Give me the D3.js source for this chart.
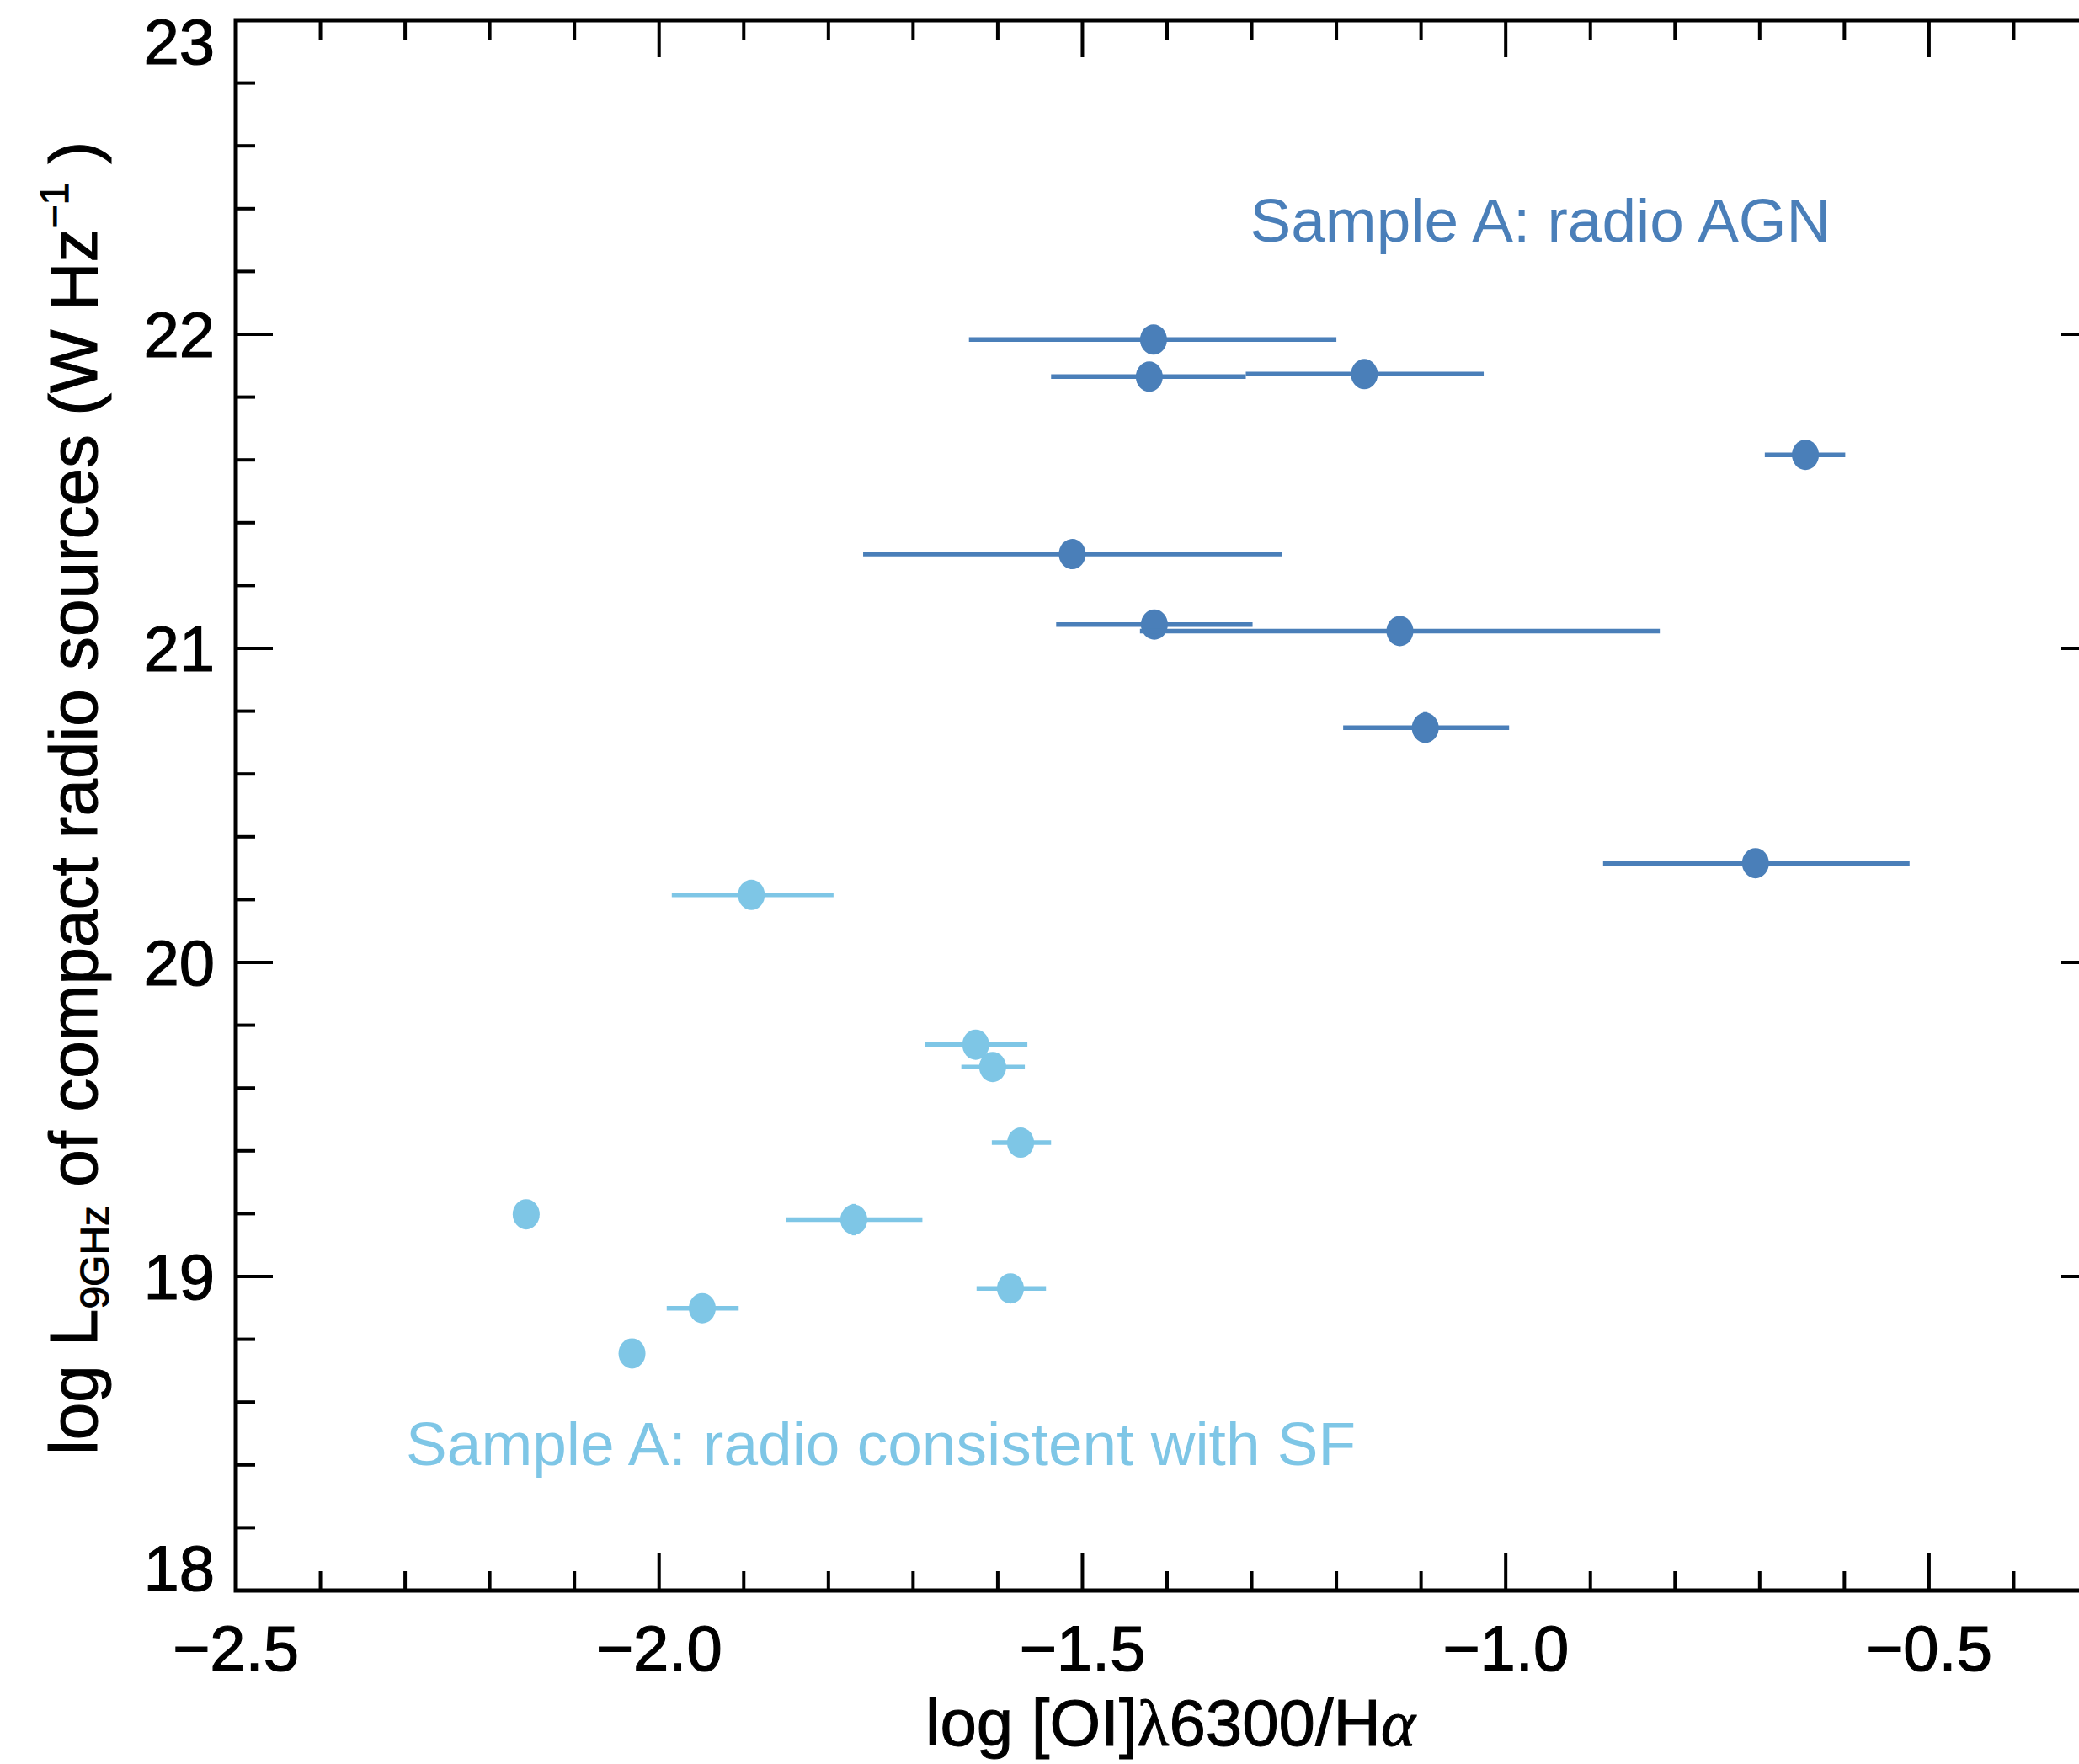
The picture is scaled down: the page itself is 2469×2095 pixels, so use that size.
<!DOCTYPE html>
<html>
<head>
<meta charset="utf-8">
<script src="https://cdn.jsdelivr.net/npm/d3@7"></script>
<style>
  html, body { margin: 0; padding: 0; background: #fff; }
  svg { display: block; font-family: "Liberation Sans", Arial, Helvetica, sans-serif; }
</style>
</head>
<body>
<div id="chart"></div>
<script>
// radio AGN (dark blue)
const agnX    = [-1.416, -1.421, -1.167, -0.646, -1.512, -1.415, -1.125, -1.095, -0.705];
const agnY    = [21.983, 21.865, 21.873, 21.616, 21.300, 21.076, 21.055, 20.747, 20.316];
const agnXLo  = [-1.634, -1.537, -1.307, -0.694, -1.759, -1.531, -1.432, -1.192, -0.885];
const agnXHi  = [-1.200, -1.307, -1.026, -0.599, -1.264, -1.299, -0.818, -0.996, -0.523];
const agnYErr = [0, 0, 0, 0, 0, 0, 0, 0.05, 0];

// radio consistent with SF (light blue)
const sfX    = [-1.891, -1.626, -1.606, -1.573, -2.157, -1.770, -1.585, -1.949, -2.032];
const sfY    = [20.215, 19.738, 19.667, 19.426, 19.198, 19.181, 18.962, 18.899, 18.755];
const sfXLo  = [-1.985, -1.686, -1.643, -1.607, -2.157, -1.850, -1.625, -1.991, -2.032];
const sfXHi  = [-1.794, -1.565, -1.568, -1.537, -2.157, -1.689, -1.543, -1.906, -2.032];
const sfYErr = [0, 0, 0, 0, 0, 0.05, 0, 0, 0];

const xMajor = [-2.5, -2.0, -1.5, -1.0, -0.5];
const yMajor = [18, 19, 20, 21, 22, 23];
const xDomain = [-2.5, -0.3];
const yDomain = [18, 23];

const labelAGN = { text: "Sample A: radio AGN", x: -1.302, y: 22.295 };
const labelSF  = { text: "Sample A: radio consistent with SF", x: -2.299, y: 18.399 };

const colAGN = "#4a7fb9";
const colSF  = "#7ec6e6";

const W = 2469, H = 2095;
const m = { left: 280, right: 2492, top: 24, bottom: 1889 };

const x = d3.scaleLinear().domain(xDomain).range([m.left, m.right]);
const y = d3.scaleLinear().domain(yDomain).range([m.bottom, m.top]);

const svg = d3.select("#chart").append("svg").attr("width", W).attr("height", H);
svg.append("rect").attr("width", W).attr("height", H).attr("fill", "#fff");

const fmt = v => (v < 0 ? "\u2212" : "") + Math.abs(v).toFixed(1);

// minor ticks
const xMinor = d3.range(-2.5, -0.29, 0.1).map(v => +v.toFixed(2)).filter(v => !xMajor.some(k => Math.abs(k - v) < 1e-6));
const yMinor = d3.range(18, 23.01, 0.2).map(v => +v.toFixed(2)).filter(v => !yMajor.some(k => Math.abs(k - v) < 1e-6));

const majorLen = 44, minorLen = 23;
const axisG = svg.append("g").attr("stroke", "#000").attr("stroke-width", 4);

function ticksX(vals, len) {
  vals.forEach(v => {
    axisG.append("line").attr("x1", x(v)).attr("x2", x(v)).attr("y1", m.bottom).attr("y2", m.bottom - len);
    axisG.append("line").attr("x1", x(v)).attr("x2", x(v)).attr("y1", m.top).attr("y2", m.top + len);
  });
}
function ticksY(vals, len) {
  vals.forEach(v => {
    axisG.append("line").attr("y1", y(v)).attr("y2", y(v)).attr("x1", m.left).attr("x2", m.left + len);
    axisG.append("line").attr("y1", y(v)).attr("y2", y(v)).attr("x1", m.right).attr("x2", m.right - len);
  });
}
ticksX(xMajor, majorLen); ticksX(xMinor, minorLen);
ticksY(yMajor, majorLen); ticksY(yMinor, minorLen);

axisG.append("rect").attr("x", m.left).attr("y", m.top).attr("width", m.right - m.left).attr("height", m.bottom - m.top)
  .attr("fill", "none").attr("stroke-width", 5);

// tick labels
svg.append("g").attr("stroke", "#000").attr("stroke-width", 1.2)
  .selectAll("text").data(xMajor).join("text")
  .attr("x", d => x(d)).attr("y", m.bottom + 95)
  .attr("text-anchor", "middle").attr("font-size", 76).text(fmt);

svg.append("g").attr("stroke", "#000").attr("stroke-width", 1.2)
  .selectAll("text").data(yMajor).join("text")
  .attr("x", 255)
  .attr("y", d => d === yDomain[1] ? y(d) + 52 : d === yDomain[0] ? y(d) : y(d) + 27)
  .attr("text-anchor", "end").attr("font-size", 76).text(d => d);

// axis titles
const xt = svg.append("text").attr("x", 1390).attr("y", 2073)
  .attr("text-anchor", "middle").attr("font-size", 78)
  .attr("stroke", "#000").attr("stroke-width", 1);
xt.append("tspan").text("log [OI]");
xt.append("tspan").attr("font-family", "Liberation Serif, serif").text("\u03bb");
xt.append("tspan").text("6300/H");
xt.append("tspan").attr("font-family", "Liberation Serif, serif").attr("font-style", "italic").text("\u03b1");

const yt = svg.append("text").attr("transform", "translate(115,948) rotate(-90)")
  .attr("text-anchor", "middle").attr("font-size", 80)
  .attr("stroke", "#000").attr("stroke-width", 1);
yt.append("tspan").text("log L");
yt.append("tspan").attr("font-size", 48).attr("dy", 14).text("9GHz");
yt.append("tspan").attr("dy", -14).text(" of compact radio sources (W Hz");
yt.append("tspan").attr("font-size", 48).attr("dy", -34).text("\u22121");
yt.append("tspan").attr("dy", 34).text(" )");

// data
function drawSeries(xs, ys, lo, hi, ye, col) {
  const g = svg.append("g");
  xs.forEach((xv, i) => {
    if (hi[i] > lo[i]) {
      g.append("line").attr("x1", x(lo[i])).attr("x2", x(hi[i])).attr("y1", y(ys[i])).attr("y2", y(ys[i]))
        .attr("stroke", col).attr("stroke-width", 5.5);
    }
    if (ye[i] > 0) {
      g.append("line").attr("x1", x(xv)).attr("x2", x(xv)).attr("y1", y(ys[i] - ye[i])).attr("y2", y(ys[i] + ye[i]))
        .attr("stroke", col).attr("stroke-width", 5);
    }
    g.append("ellipse").attr("cx", x(xv)).attr("cy", y(ys[i])).attr("rx", 16).attr("ry", 18).attr("fill", col);
  });
}
drawSeries(agnX, agnY, agnXLo, agnXHi, agnYErr, colAGN);
drawSeries(sfX, sfY, sfXLo, sfXHi, sfYErr, colSF);

// annotations
svg.append("text").attr("x", x(labelAGN.x)).attr("y", y(labelAGN.y)).attr("font-size", 73)
  .attr("fill", colAGN).text(labelAGN.text);
svg.append("text").attr("x", x(labelSF.x)).attr("y", y(labelSF.y)).attr("font-size", 73)
  .attr("fill", colSF).text(labelSF.text);
</script>
</body>
</html>
